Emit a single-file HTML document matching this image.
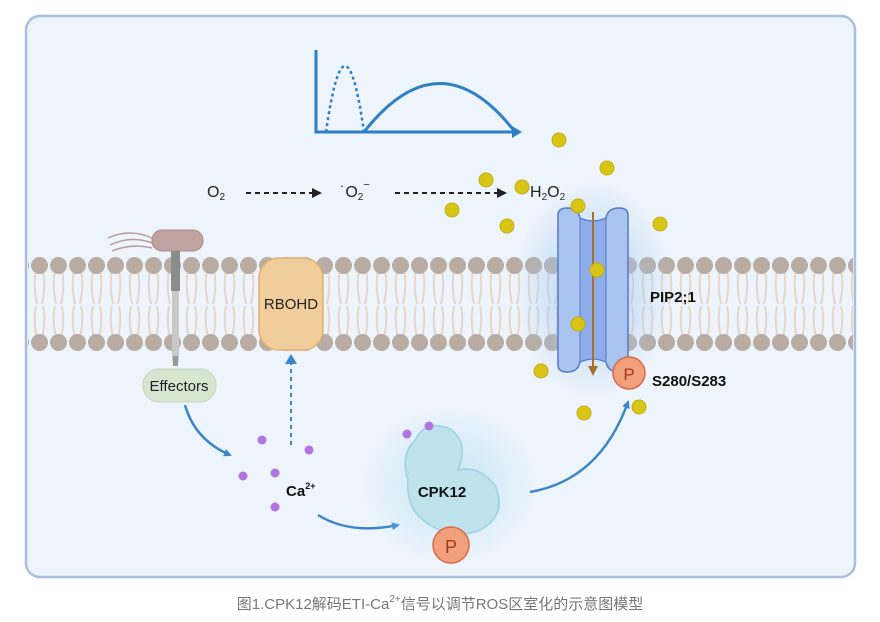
<!DOCTYPE html>
<html><head><meta charset="utf-8"><style>
body{margin:0;background:#fff;width:880px;height:622px;overflow:hidden}
svg{display:block}
</style></head><body>
<svg width="880" height="622" viewBox="0 0 880 622" xmlns="http://www.w3.org/2000/svg" font-family="Liberation Sans, sans-serif">
<defs>
<pattern id="tails" x="30" y="270" width="19" height="68" patternUnits="userSpaceOnUse">
<path d="M6 0 Q3 16 7 34 M13 0 Q16 16 12 34 M6 36 Q3 50 7 68 M13 36 Q16 50 12 68" stroke="#e6d6c8" stroke-width="2" fill="none"/>
</pattern>
<pattern id="heads" x="30" y="257" width="19" height="17" patternUnits="userSpaceOnUse">
<circle cx="9.5" cy="8.5" r="8.5" fill="#b9aca2"/>
</pattern>
<pattern id="heads2" x="30" y="334" width="19" height="17" patternUnits="userSpaceOnUse">
<circle cx="9.5" cy="8.5" r="8.5" fill="#b9aca2"/>
</pattern>
<radialGradient id="glow"><stop offset="0" stop-color="#9fc8f5" stop-opacity="0.8"/><stop offset="1" stop-color="#9fc8f5" stop-opacity="0"/></radialGradient>
<radialGradient id="glow2"><stop offset="0" stop-color="#b9e4f5" stop-opacity="0.8"/><stop offset="1" stop-color="#b9e4f5" stop-opacity="0"/></radialGradient>
<marker id="ab" markerWidth="8" markerHeight="8" refX="6" refY="4" orient="auto" markerUnits="userSpaceOnUse"><path d="M0 0L8 4L0 8z" fill="#3a86c8"/></marker>
<marker id="ak" markerWidth="10" markerHeight="10" refX="8" refY="5" orient="auto" markerUnits="userSpaceOnUse"><path d="M0 0L10 5L0 10z" fill="#222"/></marker>
</defs>
<rect x="26" y="16" width="829" height="561" rx="14" fill="#eef4fb" stroke="#a8bfe2" stroke-width="2.5"/>
<!-- membrane -->
<rect x="28" y="272" width="825" height="64" fill="url(#tails)"/>
<rect x="28" y="257" width="825" height="17" fill="url(#heads)"/>
<rect x="28" y="334" width="825" height="17" fill="url(#heads2)"/>
<!-- graph -->
<path d="M316 50 V132 H518" stroke="#2f7fc8" stroke-width="3" fill="none"/>
<path d="M512 126 L522 132 L512 138z" fill="#2f7fc8"/>
<path d="M326 132 Q345 0 364 132" stroke="#2f7fc8" stroke-width="2.5" stroke-dasharray="3 3" fill="none"/>
<path d="M364 132 Q440 35 515 132" stroke="#2f7fc8" stroke-width="3" fill="none"/>
<!-- ROS text -->
<text x="207" y="197" font-size="16" fill="#222">O<tspan font-size="10" dy="3">2</tspan></text>
<line x1="246" y1="193" x2="320" y2="193" stroke="#222" stroke-width="2" stroke-dasharray="5 4" marker-end="url(#ak)"/>
<text x="340" y="197" font-size="16" fill="#222">˙O<tspan font-size="10" dy="3">2</tspan><tspan font-size="11" dy="-12">−</tspan></text>
<line x1="395" y1="193" x2="505" y2="193" stroke="#222" stroke-width="2" stroke-dasharray="5 4" marker-end="url(#ak)"/>
<text x="530" y="197" font-size="16" fill="#222">H<tspan font-size="10" dy="3">2</tspan><tspan dy="-3">O</tspan><tspan font-size="10" dy="3">2</tspan></text>
<!-- PIP channel -->
<ellipse cx="593" cy="290" rx="80" ry="110" fill="url(#glow)"/>
<path d="M558 215 Q558 208 567 208 Q578 208 580 218 Q593 224 606 218 Q608 208 619 208 Q628 208 628 215 V365 Q628 372 619 372 Q608 372 606 362 Q593 356 580 362 Q578 372 567 372 Q558 372 558 365z" fill="#a8c4ef" stroke="#5a78c6" stroke-width="1.5"/>
<path d="M580 218 Q593 224 606 218 V362 Q593 356 580 362z" fill="#8eabea" stroke="#5a78c6" stroke-width="1"/>
<line x1="593" y1="212" x2="593" y2="368" stroke="#a8702c" stroke-width="2"/>
<path d="M588 366 L593 376 L598 366z" fill="#a8702c"/>
<text x="650" y="302" font-size="15" font-weight="bold" fill="#111">PIP2;1</text>
<circle cx="629" cy="373" r="16" fill="#f2a07c" stroke="#d8684a" stroke-width="1.5"/>
<text x="629" y="380" font-size="17" fill="#a03a20" text-anchor="middle">P</text>
<text x="652" y="386" font-size="15" font-weight="bold" fill="#111">S280/S283</text>
<!-- RBOHD -->
<rect x="259" y="258" width="64" height="92" rx="20" fill="#f2cd9c" stroke="#ddb075" stroke-width="1.5"/>
<text x="291" y="309" font-size="15" fill="#222" text-anchor="middle">RBOHD</text>
<line x1="291" y1="445" x2="291" y2="362" stroke="#3a86c8" stroke-width="2" stroke-dasharray="4 4"/>
<path d="M285 364 L291 354 L297 364z" fill="#3a86c8"/>
<!-- receptor -->
<path d="M108 238 Q130 228 152 238 M110 245 Q132 235 152 243 M112 251 Q132 243 152 248" stroke="#b79e9b" stroke-width="1.5" fill="none"/>
<rect x="152" y="230" width="51" height="21" rx="10" fill="#bfa3a1" stroke="#a88a88"/>
<rect x="171" y="251" width="9" height="40" fill="#8c8c8c"/>
<rect x="172" y="291" width="7" height="70" fill="#c8c8c8"/>
<rect x="173" y="356" width="5" height="10" fill="#999"/>
<rect x="143" y="369" width="73" height="33" rx="16" fill="#d6e6d0" stroke="#c2d6bb"/>
<text x="179" y="391" font-size="15" fill="#222" text-anchor="middle">Effectors</text>
<path d="M185 405 Q195 440 230 455" stroke="#3a86c8" stroke-width="2.5" fill="none" marker-end="url(#ab)"/>
<!-- Ca -->
<text x="286" y="496" font-size="15" font-weight="bold" fill="#111">Ca<tspan font-size="9" dy="-7">2+</tspan></text>
<path d="M318 515 Q350 535 398 525" stroke="#3a86c8" stroke-width="2.5" fill="none" marker-end="url(#ab)"/>
<!-- CPK12 -->
<ellipse cx="450" cy="485" rx="90" ry="80" fill="url(#glow2)"/>
<path d="M415 440 Q425 420 448 428 Q470 440 458 470 Q478 465 495 485 Q508 515 480 530 Q455 540 430 525 Q405 510 408 480 Q400 455 415 440z" fill="#bfe3ec" stroke="#9dd0e0" stroke-width="1.5"/>
<text x="442" y="497" font-size="15" font-weight="bold" fill="#111" text-anchor="middle">CPK12</text>
<circle cx="451" cy="545" r="18" fill="#f2a07c" stroke="#d8684a" stroke-width="1.5"/>
<text x="451" y="553" font-size="18" fill="#a03a20" text-anchor="middle">P</text>
<path d="M530 492 Q600 480 628 402" stroke="#3a86c8" stroke-width="2.5" fill="none" marker-end="url(#ab)"/>
<!-- dots -->
<g fill="#d8c516" stroke="#c2ad10">
<circle cx="559" cy="140" r="7"/><circle cx="607" cy="168" r="7"/><circle cx="486" cy="180" r="7"/><circle cx="522" cy="187" r="7"/><circle cx="452" cy="210" r="7"/><circle cx="578" cy="206" r="7"/><circle cx="660" cy="224" r="7"/><circle cx="507" cy="226" r="7"/><circle cx="597" cy="270" r="7"/><circle cx="578" cy="324" r="7"/><circle cx="541" cy="371" r="7"/><circle cx="584" cy="413" r="7"/><circle cx="639" cy="407" r="7"/>
</g>
<g fill="#b374e0">
<circle cx="262" cy="440" r="4.5"/><circle cx="309" cy="450" r="4.5"/><circle cx="243" cy="476" r="4.5"/><circle cx="275" cy="473" r="4.5"/><circle cx="275" cy="507" r="4.5"/><circle cx="407" cy="434" r="4.5"/><circle cx="429" cy="426" r="4.5"/>
</g>
<text x="440" y="609" font-size="15" fill="#777" text-anchor="middle" font-family="Liberation Sans, Noto Sans CJK SC, sans-serif">图1.CPK12解码ETI-Ca<tspan font-size="10" dy="-7">2+</tspan><tspan dy="7">信号以调节ROS区室化的示意图模型</tspan></text>
</svg>
</body></html>
